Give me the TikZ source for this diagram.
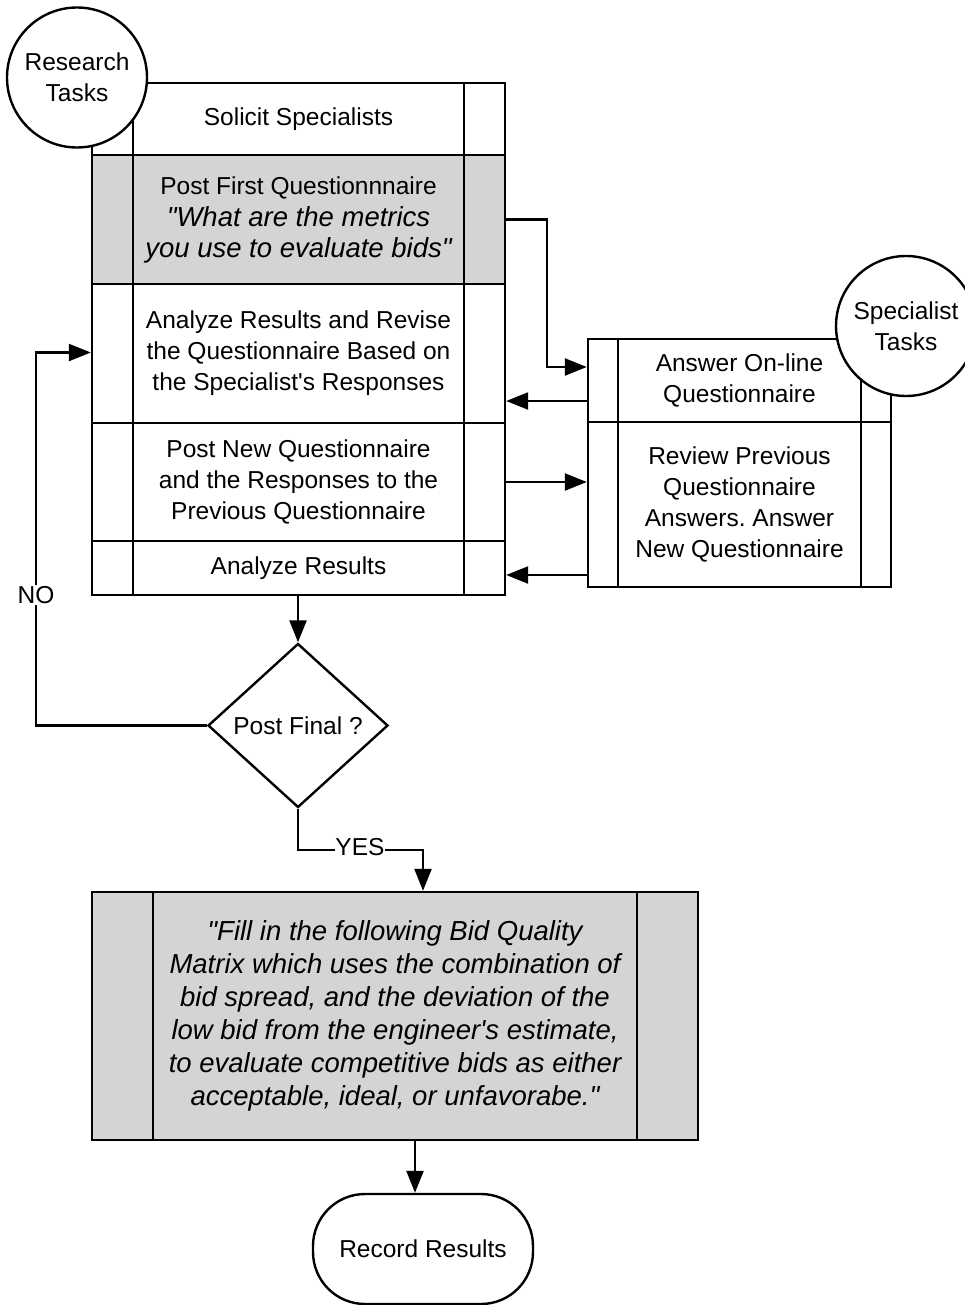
\documentclass[tikz,border=0pt]{standalone}
\usepackage{fontspec}
\setmainfont{Liberation Sans}[Ligatures=TeXOff]
\usetikzlibrary{arrows.meta,shapes.geometric,calc}
\definecolor{boxgray}{HTML}{D4D4D4}
\frenchspacing
\begin{document}
\begin{tikzpicture}[x=1pt,y=-1pt,
  line width=2.4pt,
  txt/.style={font=\fontsize{24.5}{31}\selectfont, align=center},
  itl/.style={font=\fontsize{27.5}{33}\selectfont\itshape},
  row/.style={draw, txt, minimum width=413pt, inner sep=0pt},
  srow/.style={draw, txt, minimum width=303pt, inner sep=0pt},
  grayfill/.style={fill=boxgray},
  arr/.style={-{Triangle[length=22pt,width=17pt]}},
  lbl/.style={txt, fill=white, inner sep=1pt},
  circ/.style={draw, circle, fill=white, minimum size=140pt, inner sep=0pt, txt}]
\useasboundingbox (0,0) rectangle (964,1305);
% left column
\node[row, minimum height=72pt] (r1) at (298.5,119) {Solicit Specialists};
\node[row, grayfill, minimum height=129pt] (r2) at (298.5,219.5) {Post First Questionnnaire\\[1pt]{\fontsize{27.5}{33}\selectfont\itshape "What are the metrics}\\{\fontsize{27.5}{33}\selectfont\itshape you use to evaluate bids"}};
\node[row, minimum height=139pt] (r3) at (298.5,353.5) {Analyze Results and Revise\\the Questionnaire Based on\\the Specialist's Responses};
\node[row, minimum height=118pt] (r4) at (298.5,482) {Post New Questionnaire\\and the Responses to the\\Previous Questionnaire};
\node[row, minimum height=54pt] (r5) at (298.5,568) {Analyze Results};
\draw (133,83) -- (133,595);
\draw (464,83) -- (464,595);
% right column
\node[srow, minimum height=83pt] (s1) at (739.5,380.5) {Answer On-line\\Questionnaire};
\node[srow, minimum height=165pt] (s2) at (739.5,504.5) {Review Previous\\Questionnaire\\Answers. Answer\\New Questionnaire};
\draw (618,339) -- (618,587);
\draw (861,339) -- (861,587);
% circles
\node[circ] (rt) at (77,77.5) {Research\\Tasks};
\node[circ] (st) at (906,326) {Specialist\\Tasks};
% decision
\node[draw, diamond, minimum width=180pt, minimum height=164pt, inner sep=0pt, txt] (d) at (298,725.5) {Post Final ?};
% big box
\node[draw, grayfill, minimum width=606pt, minimum height=248pt, inner sep=0pt,
  itl, align=center] (big) at (395,1016)
  {"Fill in the following Bid Quality\\Matrix which uses the combination of\\bid spread, and the deviation of the\\low bid from the engineer's estimate,\\to evaluate competitive bids as either\\acceptable, ideal, or unfavorabe."};
\draw (153,892) -- (153,1140);
\draw (637,892) -- (637,1140);
% terminal
\node[draw, rounded corners=52pt, minimum width=220pt, minimum height=110pt, txt] (rec) at (423,1249) {Record Results};
% connectors
\coordinate (c1) at ($(r2.east)+(41,0)$);
\coordinate (a1) at ($(s1.west)+(0,-13.5)$);
\draw[arr] (r2.east) -- (c1) |- (a1);
\coordinate (a2) at ($(s1.west)+(0,20.5)$);
\draw[arr] (a2) -- (r3.east |- a2);
\draw[arr] (r4.east) -- (s2.west |- r4.east);
\coordinate (a4) at ($(s2.west)+(0,70.5)$);
\draw[arr] (a4) -- (r5.east |- a4);
\draw[arr] (r5.south -| d.north) -- (d.north);
% NO loop
\coordinate (nox) at (36,725.5);
\coordinate (noin) at ($(r3.west)+(0,-1)$);
\draw[arr] (d.west) -- (nox) -- (nox |- noin) -- (noin);
\node[lbl] (nolbl) at (36,595) {NO};
% YES
\coordinate (y1) at ($(d.south)+(0,41)$);
\coordinate (yend) at ($(big.north)+(28,0)$);
\draw[arr] (d.south) -- (y1) -| (yend);
\node[lbl, inner sep=0pt] (yeslbl) at (360,847) {YES};
% big -> record
\coordinate (b1) at ($(big.south)+(20,0)$);
\draw[arr] (b1) -- (b1 |- rec.north);
\end{tikzpicture}
\end{document}
